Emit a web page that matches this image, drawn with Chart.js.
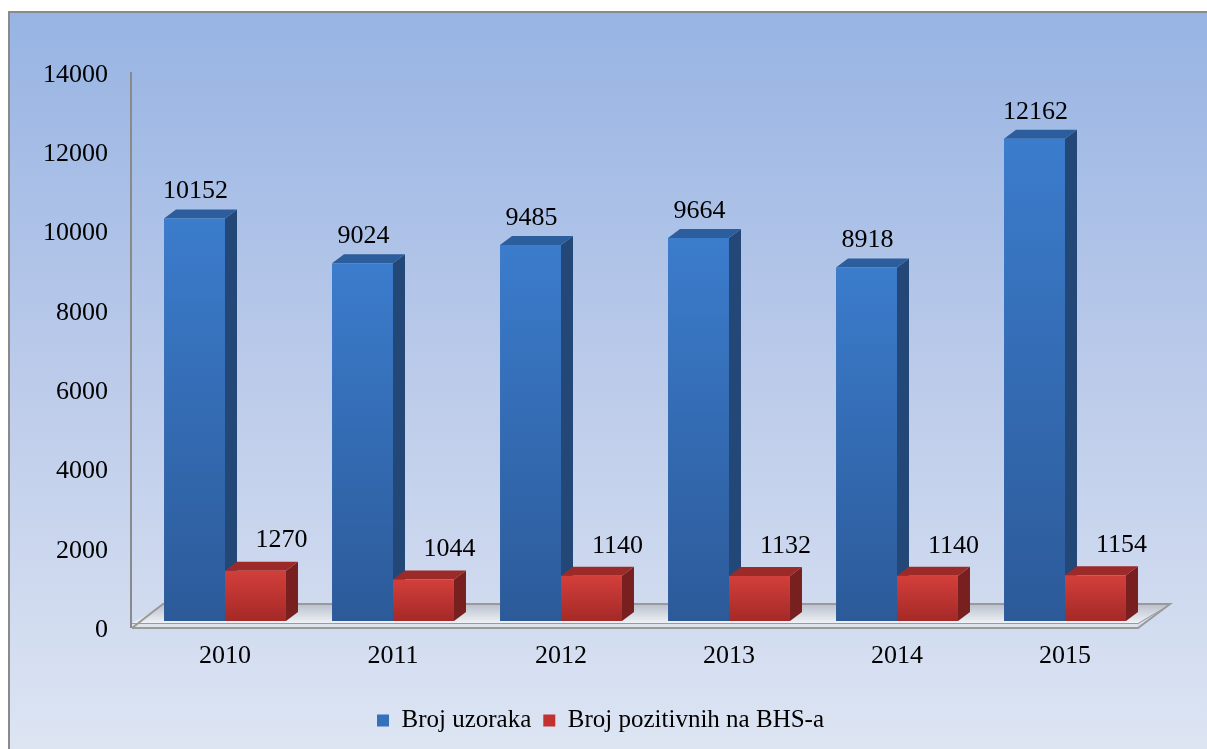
<!DOCTYPE html>
<html>
<head>
<meta charset="utf-8">
<script src="https://cdn.jsdelivr.net/npm/chart.js@4.4.1/dist/chart.umd.min.js"></script>
<style>
  body{margin:0;background:#fff;}
  canvas{display:block;}
</style>
</head>
<body>
<canvas id="myBarChart3D" width="1207" height="749"></canvas>
<script>
var godine=['2010','2011','2012','2013','2014','2015'];
var broj_uzoraka=[10152,9024,9485,9664,8918,12162];
var broj_pozitivnih=[1270,1044,1140,1132,1140,1154];
var nazivi=['Broj uzoraka','Broj pozitivnih na BHS-a'];
var y_min=0, y_max=14000, y_korak=2000;

// boje: prednja strana (gore, dole), bocna strana, vrh, legenda
var boje=[
  {gore:'#3b7ccc',dole:'#2c5a99',bok:'#234878',vrh:'#2c5d9c',legenda:'#3570bb'},
  {gore:'#d33f3b',dole:'#a42927',bok:'#77201f',vrh:'#9b2a28',legenda:'#c0312f'}
];
var FONT="'Liberation Serif','Times New Roman',serif";
var DX=12, DY=9;
// pomak natpisa vrijednosti za svaku seriju
var natpis_dx=[1,26], natpis_dy=[-27,-30];

function prednjaBoja(ser){
  return function(c){
    var ch=c.chart;
    if(!ch.chartArea) return boje[ser].legenda;
    var sy=ch.scales.y;
    var yt=sy.getPixelForValue(c.raw), yb=sy.getPixelForValue(0);
    if(!isFinite(yt)||yt===yb) return boje[ser].legenda;
    var g=ch.ctx.createLinearGradient(0,yt,0,yb);
    g.addColorStop(0,boje[ser].gore);
    g.addColorStop(1,boje[ser].dole);
    return g;
  };
}

var pozadina={
  id:'pozadina',
  afterLayout:function(chart){
    // legenda centrirana na cijelu sliku, ne samo na lijevi dio
    if(chart.legend){ chart.legend.left+=26; chart.legend.right+=26; }
  },
  beforeDraw:function(chart){
    var ctx=chart.ctx, w=chart.width, h=chart.height;
    ctx.save();
    ctx.fillStyle='#fff';
    ctx.fillRect(0,0,w,h);
    var g=ctx.createLinearGradient(0,12,0,h);
    g.addColorStop(0,'#97b4e3');
    g.addColorStop(0.5,'#bccbea');
    g.addColorStop(1,'#dde5f3');
    ctx.fillStyle=g;
    ctx.fillRect(9,12,w-9,h-12);
    ctx.strokeStyle='#8a8a8a';
    ctx.lineWidth=2;
    ctx.beginPath();
    ctx.moveTo(9,h);ctx.lineTo(9,12);ctx.lineTo(w,12);
    ctx.stroke();
    ctx.restore();
  }
};

var treciD={
  id:'treciD',
  beforeDatasetsDraw:function(chart){
    var ctx=chart.ctx, a=chart.chartArea;
    ctx.save();
    // pod
    var fy=a.bottom, L=a.left, R=a.right;
    var gp=ctx.createLinearGradient(0,fy-17,0,fy+2);
    gp.addColorStop(0,'#b9c0cc');
    gp.addColorStop(1,'#eef1f6');
    ctx.fillStyle=gp;
    ctx.beginPath();
    ctx.moveTo(L-9,fy+2);ctx.lineTo(R-11,fy+2);ctx.lineTo(R+21,fy-17);ctx.lineTo(L+22,fy-17);
    ctx.closePath();ctx.fill();
    ctx.fillStyle='#dfe3ea';
    ctx.fillRect(L-9,fy+2,R-11-(L-9),5);
    ctx.strokeStyle='#9a9a9a';
    ctx.lineWidth=2;
    ctx.beginPath();
    ctx.moveTo(L-9,fy+7);ctx.lineTo(R-11,fy+7);ctx.lineTo(R+21,fy-17);ctx.lineTo(L+22,fy-17);
    ctx.lineTo(L-9,fy+7);
    ctx.stroke();
    ctx.lineWidth=1;
    ctx.beginPath();
    ctx.moveTo(L-9,fy+2.5);ctx.lineTo(R-11,fy+2.5);ctx.lineTo(R+17,fy-14);
    ctx.stroke();
    // osa y
    ctx.strokeStyle='#8a8a8a';
    ctx.lineWidth=2;
    ctx.beginPath();
    ctx.moveTo(L-10,a.top+6);ctx.lineTo(L-10,fy+7);
    ctx.stroke();
    // bocne strane i vrhovi stubaca
    var n=chart.data.labels.length;
    for(var i=0;i<n;i++){
      for(var d=0;d<chart.data.datasets.length;d++){
        var el=chart.getDatasetMeta(d).data[i];
        var x0=el.x-el.width/2, x1=el.x+el.width/2, yt=el.y, yb=el.base;
        ctx.fillStyle=boje[d].bok;
        ctx.beginPath();
        ctx.moveTo(x1,yt);ctx.lineTo(x1+DX,yt-DY);ctx.lineTo(x1+DX,yb-DY);ctx.lineTo(x1,yb);
        ctx.closePath();ctx.fill();
        ctx.fillStyle=boje[d].vrh;
        ctx.beginPath();
        ctx.moveTo(x0,yt);ctx.lineTo(x1,yt);ctx.lineTo(x1+DX,yt-DY);ctx.lineTo(x0+DX,yt-DY);
        ctx.closePath();ctx.fill();
      }
    }
    ctx.restore();
  },
  afterDatasetsDraw:function(chart){
    var ctx=chart.ctx;
    ctx.save();
    ctx.font='26px '+FONT;
    ctx.fillStyle='#000';
    ctx.textAlign='center';
    ctx.textBaseline='middle';
    chart.data.datasets.forEach(function(ds,d){
      chart.getDatasetMeta(d).data.forEach(function(el,i){
        ctx.fillText(ds.data[i],el.x+natpis_dx[d],el.y+natpis_dy[d]);
      });
    });
    ctx.restore();
  }
};

var chardata={
  labels:godine,
  datasets:[
    {label:nazivi[0],data:broj_uzoraka,backgroundColor:prednjaBoja(0),borderWidth:0},
    {label:nazivi[1],data:broj_pozitivnih,backgroundColor:prednjaBoja(1),borderWidth:0}
  ]
};

var ctx=document.getElementById('myBarChart3D');
var barGraph=new Chart(ctx,{
  type:'bar',
  data:chardata,
  plugins:[pozadina,treciD],
  options:{
    responsive:false,
    animation:false,
    devicePixelRatio:1,
    layout:{padding:{left:0,right:58,top:66,bottom:6}},
    datasets:{bar:{categoryPercentage:0.726,barPercentage:1}},
    plugins:{
      tooltip:{enabled:false},
      legend:{
        position:'bottom',
        labels:{
          boxWidth:12,
          boxHeight:12,
          padding:12,
          color:'#000',
          font:{family:FONT,size:25},
          generateLabels:function(chart){
            return chart.data.datasets.map(function(ds,d){
              return {text:ds.label,fillStyle:boje[d].legenda,strokeStyle:boje[d].legenda,lineWidth:0,datasetIndex:d,hidden:false};
            });
          }
        }
      }
    },
    scales:{
      x:{
        grid:{display:false,drawTicks:false},
        border:{display:false},
        ticks:{color:'#000',font:{family:FONT,size:26},padding:20},
        afterFit:function(s){s.height=75;}
      },
      y:{
        min:y_min,max:y_max,
        grid:{display:false,drawTicks:false},
        border:{display:false},
        ticks:{stepSize:y_korak,color:'#000',font:{family:FONT,size:26},padding:33,labelOffset:9,
          callback:function(v){return String(v);}},
        afterFit:function(s){s.width=141;}
      }
    }
  }
});
</script>
</body>
</html>
